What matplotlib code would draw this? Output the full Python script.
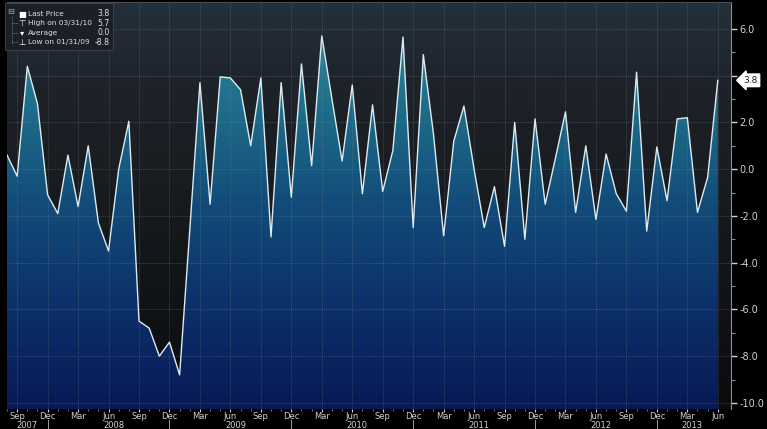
import numpy as np
import matplotlib
matplotlib.use("Agg")
import matplotlib.pyplot as plt
from matplotlib.colors import LinearSegmentedColormap
from matplotlib.patches import Polygon, Rectangle

# monthly values, Aug 2007 .. Jun 2013
start_year, start_month = 2007, 8
values = [0.6, -0.3, 4.4, 2.8, -1.1, -1.9, 0.6, -1.6, 1.0, -2.3, -3.5, 0.0,
          2.05, -6.5, -6.8, -8.0, -7.4, -8.8, -2.6, 3.7, -1.5, 3.95, 3.9, 3.4,
          1.0, 3.9, -2.9, 3.7, -1.2, 4.5, 0.15, 5.7, 3.0, 0.35, 3.6, -1.05,
          2.75, -0.95, 0.8, 5.65, -2.5, 4.9, 1.5, -2.85, 1.2, 2.7, 0.0, -2.5,
          -0.75, -3.3, 2.0, -3.0, 2.15, -1.5, 0.45, 2.45, -1.85, 1.0, -2.15, 0.65,
          -1.05, -1.8, 4.15, -2.65, 0.95, -1.35, 2.15, 2.2, -1.85, -0.35, 3.8]

legend_rows = ["Last Price", "High on 03/31/10", "Average", "Low on 01/31/09"]
legend_vals = ["3.8", "5.7", "0.0", "-8.8"]
legend_icons = ["\u25a0", "\u22a4", "\u25be", "\u22a5"]

y_ticks = [6, 4, 2, 0, -2, -4, -6, -8, -10]
month_names = {3: "Mar", 6: "Jun", 9: "Sep", 12: "Dec"}

n = len(values)
x = np.arange(n)
months = [(start_year + (start_month - 1 + i) // 12, (start_month - 1 + i) % 12 + 1) for i in range(n)]

ymin, ymax = -10.26, 7.15
xmin, xmax = 0, 71.3

W, H = 767, 429
fig = plt.figure(figsize=(W / 100, H / 100), dpi=100, facecolor="black")
ax = fig.add_axes([7 / W, (H - 409) / H, (731 - 7) / W, (409 - 2) / H])
ax.set_facecolor("#0b0c0e")
ax.set_xlim(xmin, xmax)
ax.set_ylim(ymin, ymax)

# background gradient (above the line)
bg_cmap = LinearSegmentedColormap.from_list("bg", [
    (0.0, "#0a0b0d"), (0.35, "#131619"), (0.6, "#1a1d21"), (0.8, "#1e232b"), (1.0, "#24303b")])
grad = np.linspace(0, 1, 256).reshape(-1, 1)
ax.imshow(grad, cmap=bg_cmap, origin="lower", aspect="auto",
          extent=[xmin, xmax, ymin, ymax], zorder=0)

# area fill gradient, clipped under the line
fill_cmap = LinearSegmentedColormap.from_list("fill", [
    (0.0, "#071a55"), (0.12, "#0a2460"), (0.25, "#0c306a"), (0.37, "#0f3d72"),
    (0.5, "#124b79"), (0.6, "#175a80"), (0.72, "#1d6a88"), (0.85, "#257d93"), (1.0, "#2e8e9c")])
im = ax.imshow(grad, cmap=fill_cmap, origin="lower", aspect="auto",
               extent=[xmin, xmax, ymin, ymax], zorder=1)
verts = np.column_stack([np.r_[x, x[::-1]], np.r_[values, np.full(n, ymin)]])
poly = Polygon(verts, closed=True, transform=ax.transData, facecolor="none", edgecolor="none")
ax.add_patch(poly)
im.set_clip_path(poly)

# grid
grid_kw = dict(color="#7a8590", lw=0.6, ls=(0, (1, 1.5)), alpha=0.55, zorder=2)
for yv in y_ticks:
    ax.axhline(yv, **grid_kw)
qtr_idx = [i for i, (yr, m) in enumerate(months) if m in month_names]
for i in qtr_idx:
    ax.axvline(i, **grid_kw)

ax.plot(x, values, color="#dcebf0", lw=1.0, zorder=3)

# axes styling
for s in ["left", "bottom"]:
    ax.spines[s].set_visible(False)
ax.spines["right"].set_color("#8a8f95")
ax.spines["top"].set_color("#4a5058")
ax.yaxis.tick_right()
ax.set_yticks(y_ticks)
ax.set_yticklabels(["%.1f" % v if v != 4 else "" for v in y_ticks])
ax.set_yticks(np.arange(-9, 7, 2), minor=True)
ax.tick_params(axis="y", which="major", colors="#d0d0d0", labelsize=7, length=4, width=1, pad=2)
ax.tick_params(axis="y", which="minor", colors="#8a8f95", length=3, width=0.8)

ax.set_xticks(qtr_idx)
ax.set_xticklabels([month_names[months[i][1]] for i in qtr_idx])
ax.set_xticks(x, minor=True)
ax.tick_params(axis="x", which="major", colors="#d0d0d0", labelsize=6, length=2, pad=0.3)
ax.tick_params(axis="x", which="minor", colors="#8a8f95", length=1.5)

# year labels and separators
years = sorted(set(yr for yr, m in months))
for yr in years:
    idx = [i for i, (yy, m) in enumerate(months) if yy == yr]
    xc = np.mean([idx[0], idx[-1]])
    ax.text(xc, -0.041, str(yr), transform=ax.get_xaxis_transform(), ha="center", va="center",
            fontsize=6, color="#d0d0d0", clip_on=False)
    if months[idx[-1]][1] == 12:
        ax.plot([idx[-1], idx[-1]], [-0.028, -0.052], transform=ax.get_xaxis_transform(),
                color="#9a9fa5", lw=0.7, clip_on=False)

# last price tag
ax.annotate("%.1f" % values[-1], xy=(1.0, values[-1]), xycoords=("axes fraction", "data"),
            xytext=(9, 0), textcoords="offset points", ha="left", va="center",
            fontsize=6.5, color="#202020", annotation_clip=False, zorder=10,
            bbox=dict(boxstyle="larrow,pad=0.2", fc="white", ec="white"))

# legend box (figure pixel coords)
def fx(px):
    return px / W

def fy(py):
    return 1 - py / H

fig.patches.append(Rectangle((fx(5), fy(50)), fx(113) - fx(5), fy(3) - fy(50),
                             transform=fig.transFigure, fc="#1b1f25", ec="#3c434b",
                             lw=0.8, alpha=0.92, zorder=5))
fig.text(fx(11), fy(12), "\u229f", fontsize=6, color="#a0a4a8", ha="center", va="center", zorder=6)
fig.lines.append(plt.Line2D([fx(12), fx(12)], [fy(16), fy(44)], transform=fig.transFigure,
                            color="#7a7f85", lw=0.6, ls=(0, (1, 1)), zorder=6))
for k, (lab, val, ic) in enumerate(zip(legend_rows, legend_vals, legend_icons)):
    yy = fy(14 + k * 9.4)
    if k > 0:
        fig.lines.append(plt.Line2D([fx(12), fx(18)], [yy, yy], transform=fig.transFigure,
                                    color="#7a7f85", lw=0.6, ls=(0, (1, 1)), zorder=6))
    fig.text(fx(22), yy, ic, fontsize=6, color="white", ha="center", va="center", zorder=6)
    fig.text(fx(28), yy, lab, fontsize=5.3, color="#e0e0e0",
             ha="left", va="center", zorder=6)
    fig.text(fx(110), yy, val, fontsize=5.6, color="#e0e0e0",
             ha="right", va="center", zorder=6)

fig.savefig("out.png", dpi=100, facecolor="black")
